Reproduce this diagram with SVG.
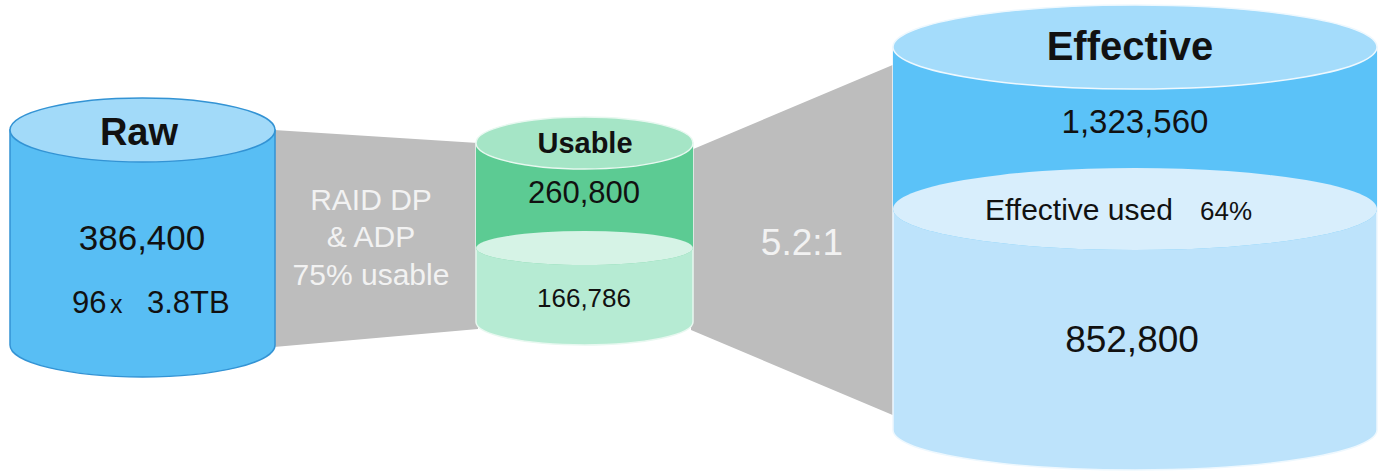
<svg xmlns="http://www.w3.org/2000/svg" width="1385" height="472" viewBox="0 0 1385 472">
  <style>
    .t { font-family: "Liberation Sans", Arial, sans-serif; fill: #111; text-anchor: middle; }
    .b { font-weight: bold; }
    .g { font-family: "Liberation Sans", Arial, sans-serif; fill: #f2f2f2; text-anchor: middle; }
    .conn { fill: #bdbdbd; }
  </style>
  <rect width="1385" height="472" fill="#ffffff"/>
  <g id="connectors">
    <polygon class="conn" points="274,130 478,143 478,329 274,347"/>
    <polygon class="conn" points="691,150 895,64 895,416 691,330"/>
    <text class="g" x="371" y="210" font-size="30">RAID DP</text>
    <text class="g" x="371" y="247" font-size="30">&amp; ADP</text>
    <text class="g" x="371" y="285" font-size="30">75% usable</text>
    <text class="g" x="802" y="255" font-size="37">5.2:1</text>
  </g>
  <g id="raw">
    <path d="M10,130 L10,345 A132.5,32 0 0 0 275,345 L275,130 Z" fill="#58bef4" stroke="#3393d4" stroke-width="1.5"/>
    <ellipse cx="142.5" cy="130" rx="132.5" ry="32" fill="#a2daf9" stroke="#3393d4" stroke-width="1.5"/>
    <text class="t b" x="139" y="145" font-size="38">Raw</text>
    <text class="t" x="142" y="250" font-size="35">386,400</text>
    <text class="t" font-size="31" y="313" style="text-anchor:start"><tspan x="72">96</tspan><tspan x="110" font-size="25">x</tspan><tspan x="147">3.8TB</tspan></text>
  </g>
  <g id="usable">
    <path d="M476,143 L476,322 A108.5,23 0 0 0 693,322 L693,143 Z" fill="#b6ebd3" stroke="#e8f8f0" stroke-width="1.5"/>
    <path d="M476,143 L476,248 A108.5,17 0 0 0 693,248 L693,143 Z" fill="#5ccb93"/>
    <ellipse cx="584.5" cy="248" rx="108.5" ry="17" fill="#d6f3e6"/>
    <ellipse cx="584.5" cy="143" rx="108.5" ry="26" fill="#a5e5c6" stroke="#e8f8f0" stroke-width="1.5"/>
    <text class="t b" x="585" y="153" font-size="29">Usable</text>
    <text class="t" x="584" y="203" font-size="31">260,800</text>
    <text class="t" x="584" y="307" font-size="26">166,786</text>
  </g>
  <g id="effective">
    <path d="M893,47 L893,430 A242,40 0 0 0 1377,430 L1377,47 Z" fill="#bde3fb" stroke="#eef8fe" stroke-width="1.5"/>
    <path d="M893,47 L893,209 A242,41 0 0 0 1377,209 L1377,47 Z" fill="#5bc2f8"/>
    <ellipse cx="1135" cy="209" rx="242" ry="41" fill="#d8eefc"/>
    <ellipse cx="1135" cy="47" rx="242" ry="42" fill="#a4dcfb" stroke="#eef8fe" stroke-width="1.5"/>
    <text class="t b" x="1130" y="60" font-size="40">Effective</text>
    <text class="t" x="1135" y="133" font-size="33">1,323,560</text>
    <text class="t" font-size="30" y="220" style="text-anchor:start"><tspan x="985">Effective used</tspan><tspan x="1200" font-size="26">64%</tspan></text>
    <text class="t" x="1132" y="352" font-size="37">852,800</text>
  </g>
</svg>
